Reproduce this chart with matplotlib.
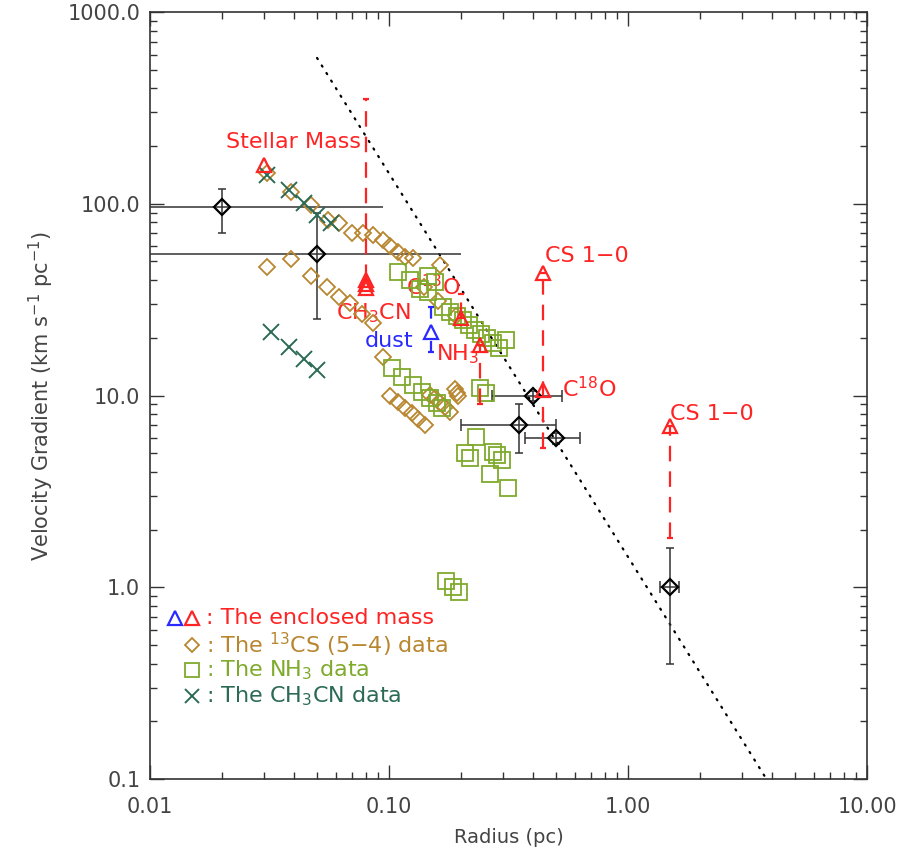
import numpy as np
import matplotlib
matplotlib.use("Agg")
import matplotlib.pyplot as plt
from matplotlib.ticker import FixedLocator, LogLocator, NullFormatter

# ---- axis ticks ----
x_ticks = [0.01, 0.1, 1.0, 10.0]
x_tick_labels = ["0.01", "0.10", "1.00", "10.00"]
y_ticks = [0.1, 1.0, 10.0, 100.0, 1000.0]
y_tick_labels = ["0.1", "1.0", "10.0", "100.0", "1000.0"]

# ---- 13CS (5-4) data: radius (pc), velocity gradient (km/s/pc) ----
cs13_r = [0.031, 0.039, 0.047, 0.0556, 0.062, 0.070, 0.078, 0.086, 0.094, 0.101,
          0.109, 0.117, 0.126, 0.163, 0.14, 0.16, 0.19,
          0.031, 0.039, 0.047, 0.055, 0.062, 0.069, 0.077, 0.086, 0.094,
          0.101, 0.109, 0.117, 0.125, 0.132, 0.141,
          0.148, 0.156, 0.163, 0.171, 0.180, 0.188, 0.192, 0.194]
cs13_g = [145, 115, 98, 82, 79, 70, 70, 69, 65, 60,
          56, 53, 52, 48, 37, 31, 26,
          47, 51.5, 42, 37, 32.6, 30.4, 26.6, 24, 15.9,
          9.9, 9.25, 8.6, 8.1, 7.5, 7.0,
          10.1, 9.7, 9.1, 8.7, 8.2, 10.8, 10.3, 9.9]

# ---- NH3 data ----
nh3_r = [0.109, 0.122, 0.146, 0.156, 0.135, 0.146, 0.168, 0.180, 0.193, 0.204,
         0.216, 0.229, 0.243, 0.257, 0.272, 0.288, 0.309,
         0.103, 0.113, 0.126, 0.137, 0.148, 0.159, 0.167, 0.240, 0.255,
         0.231, 0.208, 0.218, 0.272, 0.283, 0.297, 0.265, 0.315,
         0.173, 0.185, 0.196]
nh3_g = [44, 40, 42, 39, 36, 34.7, 28.9, 27.3, 26, 24.8,
         23.3, 22, 20.9, 20, 18.8, 17.7, 19.5,
         13.9, 12.5, 11.3, 10.4, 9.7, 9.1, 8.6, 10.9, 10.3,
         6.1, 5.0, 4.7, 5.1, 4.9, 4.6, 3.9, 3.3,
         1.08, 1.0, 0.94]

# ---- CH3CN data ----
ch3cn_r = [0.031, 0.038, 0.044, 0.050, 0.057, 0.032, 0.038, 0.044, 0.050]
ch3cn_g = [141, 118, 101, 87, 79, 21.4, 17.9, 15.5, 13.6]

# ---- averaged gradients with error bars ----
avg_r = [0.02, 0.05, 0.40, 0.35, 0.50, 1.5]
avg_g = [96, 55, 10, 7, 6, 1.0]
avg_r_err = [0.074, 0.15, 0.13, 0.15, 0.13, 0.14]
avg_g_err_lo = [26, 30, 0.6, 2, 0.4, 0.6]
avg_g_err_hi = [23, 35, 0.6, 2, 0.4, 0.6]
avg_r_capped = [False, False, True, True, True, True]

# ---- gradients from enclosed mass ----
mass_r = [0.03, 0.08, 0.08, 0.08, 0.20, 0.24, 0.44, 0.44, 1.5]
mass_g = [160, 36.4, 38.2, 40.0, 25.4, 18.3, 43.6, 10.7, 6.9]
range_r = [0.08, 0.20, 0.24, 0.44, 1.5]
range_lo = [40, 25.4, 9.0, 5.3, 1.8]
range_hi = [350, 34, 18.3, 43.6, 6.9]
dust_r = [0.15]
dust_g = [21.4]
dust_lo = [16.9]
dust_hi = [28.9]

# ---- reference slope line ----
slope_r = [0.05, 3.8]
slope_g = [576, 0.0997]

RED = "#ff2424"
BLUE = "#2a2aff"
BROWN = "#b8862f"
GREEN = "#7faa2c"
TEAL = "#2b6b55"
INK = "#333333"

plt.rcParams["font.family"] = ["DejaVu Sans"]
plt.rcParams["mathtext.fontset"] = "dejavusans"

fig = plt.figure(figsize=(9.02, 8.52), dpi=100)
ax = fig.add_axes([150 / 902, 73 / 852, 717 / 902, 767 / 852])
ax.set_xscale("log")
ax.set_yscale("log")
ax.set_xlim(0.01, 10)
ax.set_ylim(0.1, 1000)

# ticks
ax.xaxis.set_major_locator(FixedLocator(x_ticks))
ax.set_xticklabels(x_tick_labels)
ax.yaxis.set_major_locator(FixedLocator(y_ticks))
ax.set_yticklabels(y_tick_labels)
for axis in (ax.xaxis, ax.yaxis):
    axis.set_minor_locator(LogLocator(base=10, subs=np.arange(2, 10)))
    axis.set_minor_formatter(NullFormatter())
ax.tick_params(which="both", direction="in", top=True, right=True,
               color=INK, labelcolor="#444444")
ax.tick_params(which="major", length=10, width=1.0, labelsize=15)
ax.tick_params(which="minor", length=5, width=1.0)
ax.tick_params(axis="x", which="major", pad=13)
ax.tick_params(axis="y", which="major", pad=7)
for sp in ax.spines.values():
    sp.set_color(INK)
    sp.set_linewidth(1.2)

ax.set_xlabel("Radius (pc)", fontsize=14, color="#444444", labelpad=8)
ax.set_ylabel(r"Velocity Gradient (km s$^{-1}$ pc$^{-1}$)", fontsize=15,
              color="#444444", labelpad=8)

# slope line
ax.plot(slope_r, slope_g, color="black", lw=1.6, dashes=(0.6, 3.4),
        dash_capstyle="round", zorder=2)

# averaged points with error bars
ax.errorbar(avg_r, avg_g, yerr=[avg_g_err_lo, avg_g_err_hi], fmt="none",
            ecolor=INK, elinewidth=1.1, capsize=3, capthick=1.1, zorder=3)
cap_idx = [i for i, c in enumerate(avg_r_capped) if c]
open_idx = [i for i, c in enumerate(avg_r_capped) if not c]
ax.errorbar([avg_r[i] for i in cap_idx], [avg_g[i] for i in cap_idx],
            xerr=[avg_r_err[i] for i in cap_idx], fmt="none", ecolor=INK,
            elinewidth=1.1, capsize=4, capthick=1.1, zorder=3)
ax.errorbar([avg_r[i] for i in open_idx], [avg_g[i] for i in open_idx],
            xerr=[avg_r_err[i] for i in open_idx], fmt="none", ecolor=INK,
            elinewidth=1.1, capsize=0, zorder=3)
ax.plot(avg_r, avg_g, ls="none", marker="D", ms=8.5, mfc="none", mec="black",
        mew=1.6, zorder=6)

# labels for the mass estimates
lab_kw = dict(fontsize=16, va="baseline", zorder=2)
ax.text(0.04, 195, "Stellar Mass", color=RED, ha="center", **lab_kw)
ax.text(0.086, 24.8, r"CH$_3$CN", color=RED, ha="center", **lab_kw)
ax.text(0.153, 33.4, r"C$^{13}$O", color=RED, ha="center", **lab_kw)
ax.text(0.10, 17.9, "dust", color=BLUE, ha="center", **lab_kw)
ax.text(0.194, 15.3, r"NH$_3$", color=RED, ha="center", **lab_kw)
ax.text(0.45, 49.7, "CS 1\u22120", color=RED, ha="left", **lab_kw)
ax.text(0.53, 9.8, r"C$^{18}$O", color=RED, ha="left", **lab_kw)
ax.text(1.5, 7.45, "CS 1\u22120", color=RED, ha="left", **lab_kw)

# data sets
ax.plot(cs13_r, cs13_g, ls="none", marker="D", ms=8, mfc="none", mec=BROWN,
        mew=1.3, zorder=4)
ax.plot(nh3_r, nh3_g, ls="none", marker="s", ms=11.5, mfc="none", mec=GREEN,
        mew=1.3, zorder=4)
ax.plot(ch3cn_r, ch3cn_g, ls="none", marker="x", ms=11, mec=TEAL, mew=1.4,
        zorder=4)

# enclosed-mass ranges (dashed) and triangles
eb = ax.errorbar(range_r, range_hi,
                 yerr=[np.subtract(range_hi, range_lo), np.zeros(len(range_r))],
                 fmt="none", ecolor=RED, elinewidth=1.6, capsize=2.2,
                 capthick=1.6, zorder=5)
for lc in eb[2]:
    lc.set_linestyle((0, (7, 4.5)))
eb = ax.errorbar(dust_r, dust_hi,
                 yerr=[np.subtract(dust_hi, dust_lo), np.zeros(len(dust_r))],
                 fmt="none", ecolor=BLUE, elinewidth=1.6, capsize=2.2,
                 capthick=1.6, zorder=5)
for lc in eb[2]:
    lc.set_linestyle((0, (5, 10)))
ax.plot(mass_r, mass_g, ls="none", marker="^", ms=10, mfc="none", mec=RED,
        mew=1.6, zorder=6)
ax.plot(dust_r, dust_g, ls="none", marker="^", ms=10, mfc="none", mec=BLUE,
        mew=1.6, zorder=6)

# key drawn inside the plot
tr = ax.transAxes
leg_x_mark = 0.0586
leg_x_text = 0.078
ax.plot([0.0349], [0.2099], transform=tr, marker="^", ms=10, mfc="none",
        mec=BLUE, mew=1.6, ls="none", clip_on=False)
ax.plot([leg_x_mark], [0.2099], transform=tr, marker="^", ms=10, mfc="none",
        mec=RED, mew=1.6, ls="none", clip_on=False)
ax.text(leg_x_text, 0.2099, ": The enclosed mass", transform=tr, color=RED,
        fontsize=16, va="center", ha="left")
ax.plot([leg_x_mark], [0.1747], transform=tr, marker="D", ms=7, mfc="none",
        mec=BROWN, mew=1.3, ls="none", clip_on=False)
ax.text(leg_x_text, 0.1747, ": The $^{13}$CS (5\u22124) data", transform=tr,
        color=BROWN, fontsize=16, va="center", ha="left")
ax.plot([leg_x_mark], [0.1421], transform=tr, marker="s", ms=10, mfc="none",
        mec=GREEN, mew=1.3, ls="none", clip_on=False)
ax.text(leg_x_text, 0.1421, ": The NH$_3$ data", transform=tr, color=GREEN,
        fontsize=16, va="center", ha="left")
ax.plot([leg_x_mark], [0.1082], transform=tr, marker="x", ms=10, mec=TEAL,
        mew=1.4, ls="none", clip_on=False)
ax.text(leg_x_text, 0.1082, ": The CH$_3$CN data", transform=tr, color=TEAL,
        fontsize=16, va="center", ha="left")

fig.savefig("out.png", dpi=100)
